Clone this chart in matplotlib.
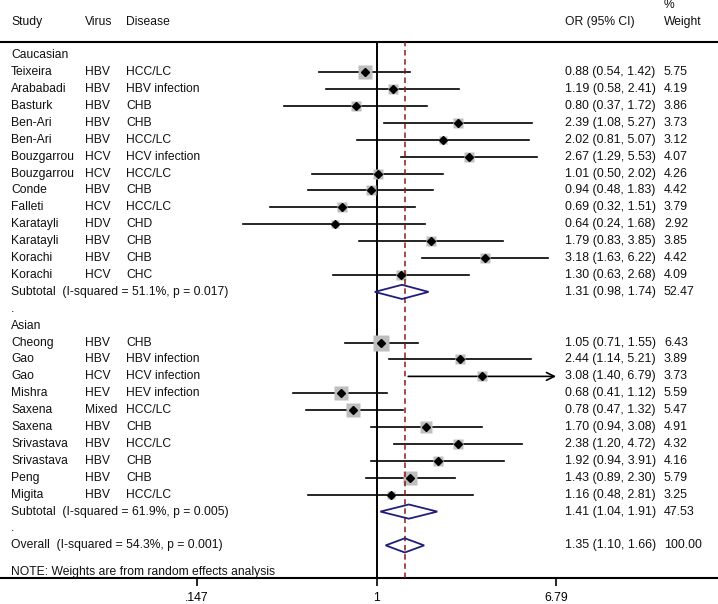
import numpy as np
import matplotlib
matplotlib.use("Agg")
import matplotlib.pyplot as plt
from matplotlib.patches import Polygon

plt.rcParams['font.family'] = ['Liberation Sans', 'DejaVu Sans']

# --- data ---
cau_study = ["Teixeira", "Arababadi", "Basturk", "Ben-Ari", "Ben-Ari", "Bouzgarrou",
             "Bouzgarrou", "Conde", "Falleti", "Karatayli", "Karatayli", "Korachi", "Korachi"]
cau_virus = ["HBV", "HBV", "HBV", "HBV", "HBV", "HCV", "HCV", "HBV", "HCV", "HDV", "HBV", "HBV", "HCV"]
cau_disease = ["HCC/LC", "HBV infection", "CHB", "CHB", "HCC/LC", "HCV infection", "HCC/LC",
               "CHB", "HCC/LC", "CHD", "CHB", "CHB", "CHC"]
cau_or = [0.88, 1.19, 0.80, 2.39, 2.02, 2.67, 1.01, 0.94, 0.69, 0.64, 1.79, 3.18, 1.30]
cau_lo = [0.54, 0.58, 0.37, 1.08, 0.81, 1.29, 0.50, 0.48, 0.32, 0.24, 0.83, 1.63, 0.63]
cau_hi = [1.42, 2.41, 1.72, 5.27, 5.07, 5.53, 2.02, 1.83, 1.51, 1.68, 3.85, 6.22, 2.68]
cau_w = [5.75, 4.19, 3.86, 3.73, 3.12, 4.07, 4.26, 4.42, 3.79, 2.92, 3.85, 4.42, 4.09]
cau_sub = ("Subtotal  (I-squared = 51.1%, p = 0.017)", 1.31, 0.98, 1.74, 52.47)

asi_study = ["Cheong", "Gao", "Gao", "Mishra", "Saxena", "Saxena", "Srivastava",
             "Srivastava", "Peng", "Migita"]
asi_virus = ["HBV", "HBV", "HCV", "HEV", "Mixed", "HBV", "HBV", "HBV", "HBV", "HBV"]
asi_disease = ["CHB", "HBV infection", "HCV infection", "HEV infection", "HCC/LC", "CHB",
               "HCC/LC", "CHB", "CHB", "HCC/LC"]
asi_or = [1.05, 2.44, 3.08, 0.68, 0.78, 1.70, 2.38, 1.92, 1.43, 1.16]
asi_lo = [0.71, 1.14, 1.40, 0.41, 0.47, 0.94, 1.20, 0.94, 0.89, 0.48]
asi_hi = [1.55, 5.21, 6.79, 1.12, 1.32, 3.08, 4.72, 3.91, 2.30, 2.81]
asi_w = [6.43, 3.89, 3.73, 5.59, 5.47, 4.91, 4.32, 4.16, 5.79, 3.25]
asi_sub = ("Subtotal  (I-squared = 61.9%, p = 0.005)", 1.41, 1.04, 1.91, 47.53)

overall = ("Overall  (I-squared = 54.3%, p = 0.001)", 1.35, 1.10, 1.66, 100.00)

tick_vals = [0.147, 1, 6.79]
tick_labels = [".147", "1", "6.79"]

# --- figure ---
W, H = 718, 604
fig = plt.figure(figsize=(W / 100, H / 100), dpi=100)
ax = fig.add_axes([0, 26 / H, 1, (578 - 42) / H])
ax.set_xscale('log')
ax.set_xlim(0.01793, 38.23)
ax.set_ylim(30.93, -0.787)
ax.minorticks_off()
ax.set_xticks(tick_vals)
ax.set_xticklabels(tick_labels, fontsize=8.8)
ax.set_yticks([])
ax.tick_params(axis='x', direction='out', length=6, width=1.2, pad=4, top=False)
for s in ['left', 'right']:
    ax.spines[s].set_visible(False)
for s in ['top', 'bottom']:
    ax.spines[s].set_linewidth(1.5)

tr = ax.get_yaxis_transform()
fs_lbl = 8.7   # study / virus / disease text
fs_num = 8.9   # OR and weight columns
col_x = [11 / W, 85 / W, 126 / W, 565 / W, 664 / W]

def txt(x, y, s, fs=fs_lbl):
    ax.text(x, y, s, transform=tr, fontsize=fs, va='center', ha='left', color='#111111')

# header
txt(col_x[0], -1.97, "Study")
txt(col_x[1], -1.97, "Virus")
txt(col_x[2], -1.97, "Disease")
txt(col_x[3], -1.97, "OR (95% CI)")
txt(col_x[4], -1.97, "Weight")
txt(col_x[4], -2.98, "%")

# null line and overall dashed line
ax.axvline(1, color='black', lw=1.4, zorder=1)
ax.axvline(overall[1], color='#8b1a1a', lw=1.1, ls=(0, (3.6, 2.4)), zorder=4)

diamond_h = 0.42

def study_row(y, name, virus, dis, o, lo, hi, w):
    txt(col_x[0], y, name)
    txt(col_x[1], y, virus)
    txt(col_x[2], y, dis)
    txt(col_x[3], y, f"{o:.2f} ({lo:.2f}, {hi:.2f})", fs_num)
    txt(col_x[4], y, f"{w:.2f}", fs_num)
    if hi >= tick_vals[-1]:
        ax.annotate('', xy=(hi, y), xytext=(lo, y),
                    arrowprops=dict(arrowstyle='->', lw=1.2, color='black',
                                    mutation_scale=14, shrinkA=0, shrinkB=0), zorder=2)
    else:
        ax.plot([lo, hi], [y, y], color='black', lw=1.2, zorder=2)
    ax.plot([o], [y], marker='s', ms=1.75 * w, color='#bebebe', mec='none', zorder=3)
    ax.plot([o], [y], marker='D', ms=3.6, color='black', zorder=5)

def summary_row(y, label, o, lo, hi, w):
    txt(col_x[0], y, label)
    txt(col_x[3], y, f"{o:.2f} ({lo:.2f}, {hi:.2f})", fs_num)
    txt(col_x[4], y, f"{w:.2f}", fs_num)
    poly = Polygon([(lo, y), (o, y - diamond_h), (hi, y), (o, y + diamond_h)],
                   closed=True, fill=False, edgecolor='#1f1f7a', lw=1.3, zorder=5)
    ax.add_patch(poly)

y = 0
txt(col_x[0], y, "Caucasian")
for i in range(len(cau_study)):
    y += 1
    study_row(y, cau_study[i], cau_virus[i], cau_disease[i], cau_or[i], cau_lo[i], cau_hi[i], cau_w[i])
y += 1
summary_row(y, *cau_sub)
y += 1
txt(col_x[0], y, ".")
y += 1
txt(col_x[0], y, "Asian")
for i in range(len(asi_study)):
    y += 1
    study_row(y, asi_study[i], asi_virus[i], asi_disease[i], asi_or[i], asi_lo[i], asi_hi[i], asi_w[i])
y += 1
summary_row(y, *asi_sub)
y += 1
txt(col_x[0], y, ".")
y += 1
summary_row(y, *overall)
txt(col_x[0], y + 1.55, "NOTE: Weights are from random effects analysis")

fig.savefig("out.png", dpi=100)
